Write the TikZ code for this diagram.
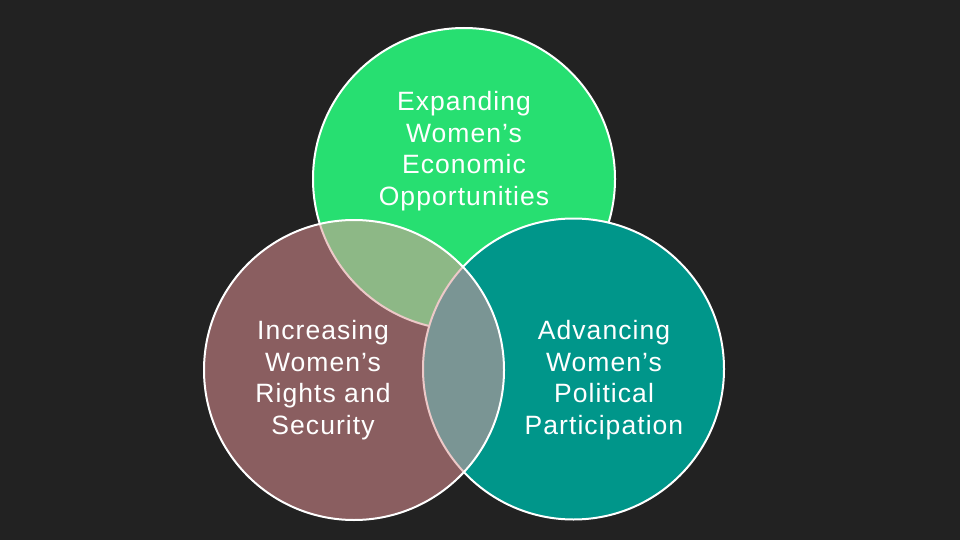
\documentclass[tikz,border=0pt]{standalone}
\usepackage{fontspec}
\setmainfont{Liberation Sans}[LetterSpace=4]
\usetikzlibrary{positioning}
\definecolor{bgdark}{HTML}{222222}
\definecolor{ecogreen}{HTML}{27DF71}
\definecolor{polteal}{HTML}{00968A}
\definecolor{rightsred}{HTML}{8A5E60}
\definecolor{lensgreen}{HTML}{8DB886}
\definecolor{lensgrey}{HTML}{7A9594}
\definecolor{rimpink}{HTML}{EDC9C8}
\tikzset{
  ring/.style={circle,draw=white,line width=2,inner sep=0pt},
  label text/.style={text=white,align=center,inner sep=0pt,
    font=\fontsize{26.5}{31.5}\selectfont}
}

\begin{document}
\begin{tikzpicture}[x=1pt,y=-1pt]
\fill[bgdark] (0,0) rectangle (960,540);
\path[use as bounding box] (0,0) rectangle (960,540);
% the three circles
\node[ring,fill=ecogreen,minimum size=302] (eco) at (464,179) {};
\node[ring,fill=polteal,minimum size=301] (pol) at (573.5,369) {};
\fill[rightsred] (354,370) circle (150pt);
% overlaps
\begin{scope}
  \clip (354,370) circle (150pt);
  \fill[lensgreen] (eco.center) circle (151pt);
  \draw[rimpink,line width=2] (eco.center) circle (151pt);
  \fill[lensgrey] (pol.center) circle (150.5pt);
  \draw[rimpink,line width=2] (pol.center) circle (150.5pt);
\end{scope}
\node[ring,minimum size=300] (rights) at (354,370) {};
% labels
\node[label text] (ecotext) at (464,151) {Expanding\\Women’s\\Economic\\Opportunities};
\node[label text] (rightstext) at (323,380) {Increasing\\Women’s\\Rights and\\Security};
\node[label text] (poltext) at (604,380) {Advancing\\Women’s\\Political\\Participation};
\end{tikzpicture}
\end{document}
